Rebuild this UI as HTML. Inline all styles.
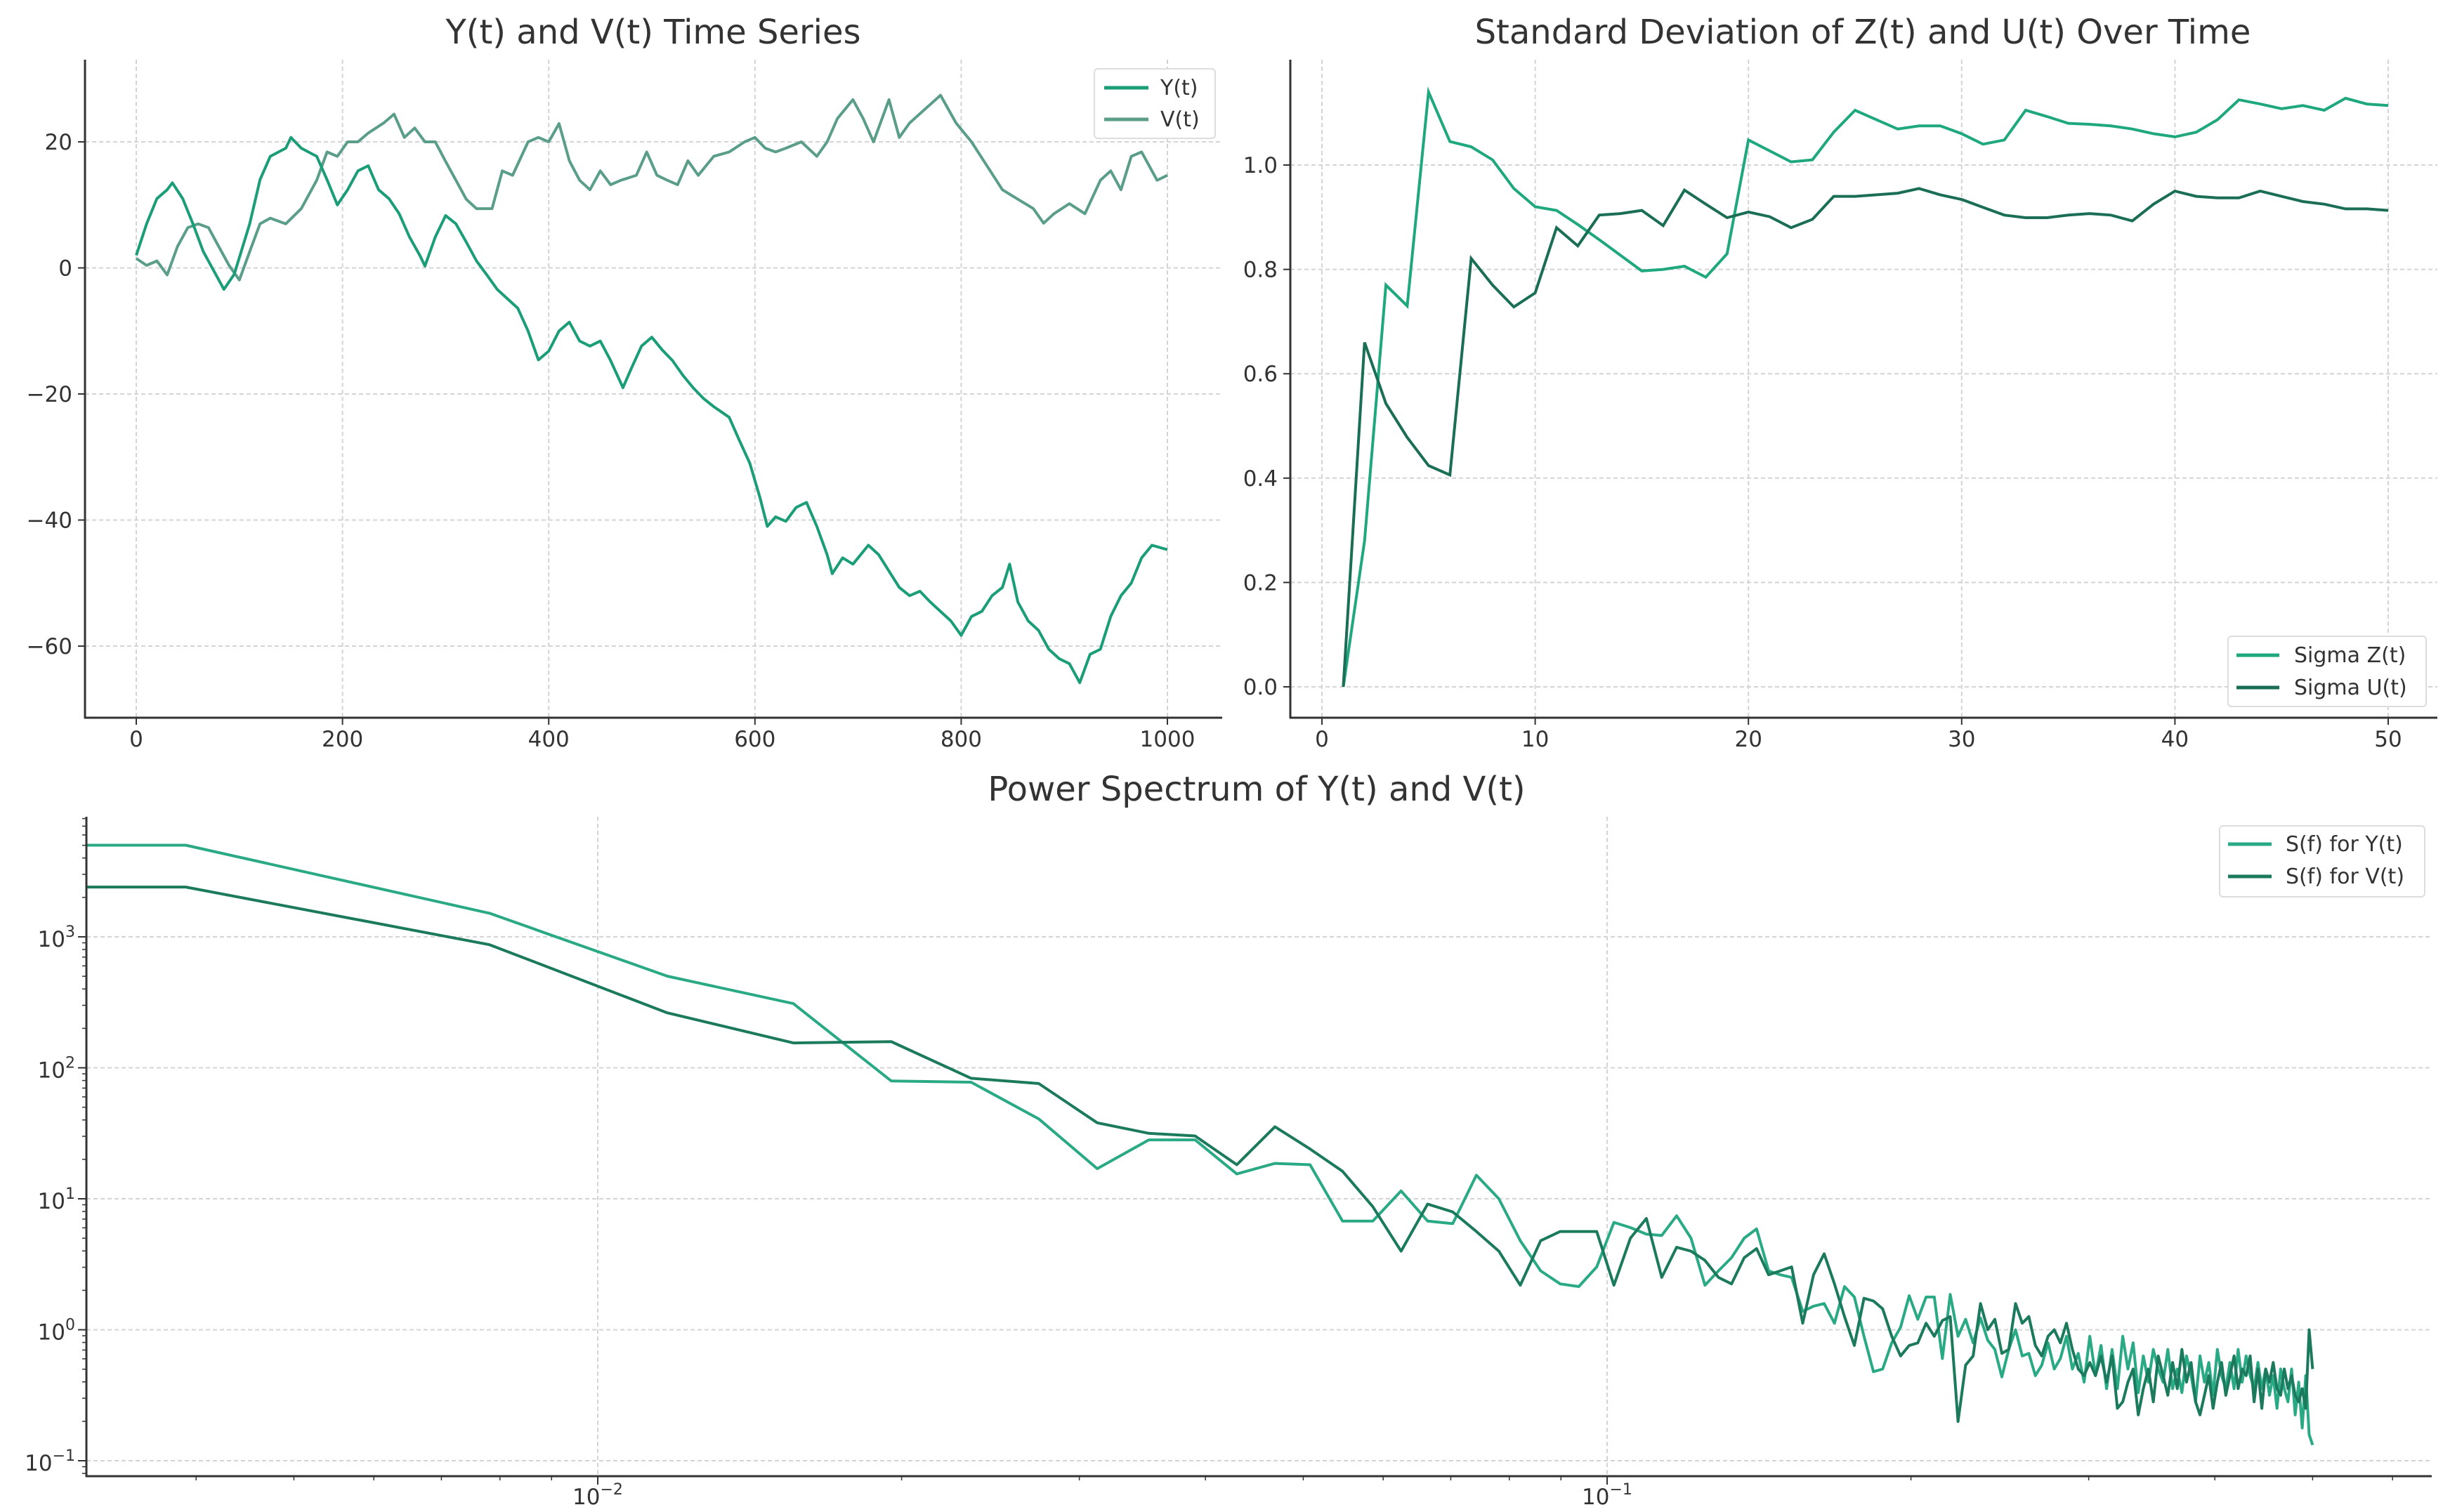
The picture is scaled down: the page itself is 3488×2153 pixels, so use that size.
<!DOCTYPE html>
<html><head><meta charset="utf-8">
<style>
html,body{margin:0;padding:0;background:#fff;}
svg{display:block;font-family:"DejaVu Sans","Liberation Sans",sans-serif;}
.tick{font-size:31px;fill:#333;}
.title{font-size:48px;fill:#333;}
.leg{font-size:30px;fill:#333;}
</style></head>
<body>
<svg id="fig" width="3488" height="2153" viewBox="0 0 3488 2153" xmlns="http://www.w3.org/2000/svg">
<defs>
<clipPath id="c1"><rect x="121" y="85" width="1619" height="937"/></clipPath>
<clipPath id="c2"><rect x="1837" y="85" width="1633" height="937"/></clipPath>
<clipPath id="c3"><rect x="123" y="1163" width="3339" height="939"/></clipPath>
</defs>
<text class="title" x="930" y="62" text-anchor="middle">Y(t) and V(t) Time Series</text>
<text class="title" x="2652" y="62" text-anchor="middle">Standard Deviation of Z(t) and U(t) Over Time</text>
<text class="title" x="1789" y="1140" text-anchor="middle">Power Spectrum of Y(t) and V(t)</text>
<g id="p1"></g>
<g id="p2"></g>
<g id="p3"></g>
</svg>
<script>
// ---- Time series data ----
const tsT = [0,10,20,30,35,45,55,65,75,85,95,110,120,130,145,150,160,175,185,195,205,215,225,235,245,255,265,275,280,290,300,310,320,330,340,350,360,370,380,390,400,410,420,430,440,450,460,472,480,490,500,510,520,530,540,550,560,575,585,595,605,612,620,630,640,650,660,670,675,685,695,710,720,740,750,760,770,780,790,800,810,820,830,840,847,855,865,875,885,895,905,915,925,935,945,955,965,975,985,1000];
const yVals = [2,7,11,12.4,13.5,11,7,2.6,-0.4,-3.4,-1,7,14,17.7,19,20.7,19,17.7,14,10,12.4,15.4,16.2,12.4,11,8.6,4.9,2,0.3,4.9,8.3,7,4.1,1.1,-1.1,-3.4,-4.9,-6.4,-10,-14.6,-13.2,-10,-8.6,-11.6,-12.4,-11.6,-14.7,-19,-16,-12.4,-11,-13,-14.7,-17,-19,-20.7,-22,-23.7,-27.4,-31,-36.5,-41,-39.5,-40.2,-38,-37.2,-41,-45.5,-48.5,-46,-47,-44,-45.5,-50.7,-52,-51.3,-53,-54.5,-56,-58.3,-55.3,-54.5,-52,-50.7,-47,-53,-56,-57.5,-60.5,-62,-62.8,-65.8,-61.3,-60.5,-55.3,-52,-50,-46,-44,-44.7];
const vT = [0,10,20,30,40,50,60,70,80,90,100,110,120,130,145,160,175,185,195,205,215,225,240,250,260,270,280,290,300,310,320,330,345,355,365,380,390,400,410,420,430,440,450,460,470,485,495,505,515,525,535,545,560,575,590,600,610,620,630,645,660,670,680,695,705,715,730,740,750,765,780,795,810,825,840,855,870,880,890,905,920,935,945,955,965,975,990,1000];
const vVals = [1.5,0.4,1.1,-1.1,3.4,6.4,7,6.4,3.4,0.4,-1.9,2.6,7,7.9,7,9.4,13.9,18.4,17.7,20,20,21.4,23,24.4,20.7,22.2,20,20,16.9,13.9,10.9,9.4,9.4,15.4,14.7,20,20.7,20,22.9,17,13.9,12.4,15.4,13.2,13.9,14.7,18.4,14.7,13.9,13.2,17,14.7,17.7,18.4,20,20.7,19,18.4,19,20,17.7,20,23.7,26.7,23.7,20,26.7,20.7,23,25.2,27.4,23,20,16.2,12.4,10.9,9.4,7.1,8.6,10.2,8.6,13.9,15.4,12.4,17.7,18.4,13.9,14.7];
const tsXTicks = [0,200,400,600,800,1000];
const tsYTicks = [-60,-40,-20,0,20];
// ---- Sigma data ----
const sigT = [1,2,3,4,5,6,7,8,9,10,11,12,13,14,15,16,17,18,19,20,21,22,23,24,25,26,27,28,29,30,31,32,33,34,35,36,37,38,39,40,41,42,43,44,45,46,47,48,49,50];
const sigZ = [0,0.28,0.77,0.73,1.14,1.045,1.035,1.01,0.955,0.92,0.913,0.886,0.857,0.827,0.797,0.8,0.806,0.785,0.83,1.048,1.027,1.006,1.01,1.063,1.105,1.087,1.069,1.075,1.075,1.06,1.04,1.048,1.105,1.093,1.08,1.078,1.075,1.069,1.06,1.054,1.063,1.087,1.125,1.117,1.108,1.114,1.105,1.128,1.117,1.114];
const sigU = [0,0.66,0.543,0.478,0.424,0.406,0.821,0.77,0.728,0.755,0.88,0.845,0.904,0.907,0.913,0.884,0.952,0.925,0.899,0.91,0.901,0.88,0.896,0.94,0.94,0.943,0.946,0.955,0.943,0.934,0.919,0.904,0.899,0.899,0.904,0.907,0.904,0.893,0.925,0.95,0.94,0.937,0.937,0.95,0.94,0.93,0.925,0.916,0.916,0.913];
const sigXTicks = [0,10,20,30,40,50];
const sigYTicks = [0,0.2,0.4,0.6,0.8,1.0];
// ---- Power spectrum (frequency bin index k, f = k/256; log10 of S) ----
const psK = [0,1,2,3,4,5,6,7,8,9,10,11,12,13,14,15,16,17,18,19,20,21,22,23,24,25,26,27,28,29,30,31,32,33,34,35,36,37,38,39,40,41,42,43,44,45,46,47,48,49,50,51,52,53,54,55,56,57,58,59,60,61,62,63,64,65,66,67,68,69,70,71,72,73,74,75,76,77,78,79,80,81,82,83,84,85,86,87,88,89,90,91,92,93,94,95,96,97,98,99,100,101,102,103,104,105,106,107,108,109,110,111,112,113,114,115,116,117,118,119,120,121,122,123,124,125,126,127,128];
const psYLog = [3.70,3.70,3.18,2.70,2.49,1.90,1.89,1.61,1.23,1.45,1.45,1.19,1.27,1.26,0.83,0.83,1.06,0.83,0.81,1.18,1.0,0.68,0.45,0.35,0.33,0.48,0.82,0.78,0.73,0.72,0.87,0.70,0.34,0.45,0.55,0.70,0.77,0.45,0.42,0.40,0.14,0.18,0.20,0.05,0.33,0.25,-0.05,-0.32,-0.30,-0.10,0.02,0.26,0.08,0.25,0.25,-0.22,0.27,-0.05,0.08,-0.10,0.09,-0.08,-0.15,-0.36,-0.15,0.00,-0.20,-0.18,-0.35,-0.27,-0.10,-0.30,-0.22,-0.05,-0.30,-0.18,-0.40,-0.05,-0.35,-0.12,-0.45,-0.15,-0.45,-0.05,-0.30,-0.10,-0.48,-0.20,-0.40,-0.15,-0.30,-0.40,-0.15,-0.45,-0.30,-0.48,-0.20,-0.35,-0.55,-0.20,-0.40,-0.25,-0.50,-0.15,-0.35,-0.45,-0.25,-0.45,-0.15,-0.40,-0.20,-0.35,-0.45,-0.25,-0.45,-0.30,-0.50,-0.35,-0.60,-0.30,-0.45,-0.55,-0.30,-0.65,-0.40,-0.75,-0.35,-0.80,-0.88];
const psVLog = [3.38,3.38,2.94,2.42,2.19,2.20,1.92,1.88,1.58,1.50,1.48,1.26,1.55,1.38,1.21,0.94,0.60,0.96,0.90,0.75,0.60,0.34,0.68,0.75,0.75,0.75,0.34,0.70,0.85,0.40,0.63,0.60,0.53,0.40,0.35,0.55,0.62,0.42,0.45,0.48,0.05,0.42,0.58,0.35,0.10,-0.12,0.24,0.22,0.16,-0.05,-0.20,-0.12,-0.10,0.05,-0.05,0.07,0.10,-0.70,-0.27,-0.20,0.20,0.00,0.08,-0.18,-0.15,0.20,0.05,0.10,-0.12,-0.20,-0.05,0.00,-0.10,0.05,-0.15,-0.30,-0.35,-0.25,-0.35,-0.20,-0.40,-0.20,-0.60,-0.55,-0.40,-0.30,-0.65,-0.45,-0.30,-0.55,-0.20,-0.35,-0.50,-0.25,-0.45,-0.15,-0.40,-0.25,-0.55,-0.65,-0.50,-0.35,-0.60,-0.40,-0.25,-0.50,-0.35,-0.20,-0.45,-0.30,-0.35,-0.20,-0.55,-0.30,-0.60,-0.30,-0.40,-0.25,-0.45,-0.50,-0.30,-0.45,-0.35,-0.50,-0.55,-0.45,-0.60,0.00,-0.30];
const psXDecades = [-2,-1];
const psYDecades = [-1,0,1,2,3];

const NS='http://www.w3.org/2000/svg';
function mk(parent, tag, attrs){const e=document.createElementNS(NS,tag);for(const k in attrs)e.setAttribute(k,attrs[k]);parent.appendChild(e);return e;}
const GRID='#d4d4d4', AX='#333';

// ---------- Panel 1 ----------
(function(){
 const g=document.getElementById('p1');
 const L=121,R=1740,T=85,B=1022;
 const sx=t=>194+t*1.468, sy=v=>381.5-v*8.975;
 tsXTicks.forEach(t=>{const x=sx(t);
  const gl=mk(g,'line',{x1:x,x2:x,y1:T,y2:B,stroke:GRID,'stroke-width':2,'stroke-dasharray':'6,4'});
  
  mk(g,'line',{x1:x,x2:x,y1:B,y2:B+10,stroke:AX,'stroke-width':2});
  const tx=mk(g,'text',{x:x,y:1063,'text-anchor':'middle',class:'tick'});tx.textContent=t;
  });
 tsYTicks.forEach(v=>{const y=sy(v);
  const gl=mk(g,'line',{x1:L,x2:R,y1:y,y2:y,stroke:GRID,'stroke-width':2,'stroke-dasharray':'6,4'});
  
  mk(g,'line',{x1:L-10,x2:L,y1:y,y2:y,stroke:AX,'stroke-width':2});
  const tx=mk(g,'text',{x:L-18,y:y+11,'text-anchor':'end',class:'tick'});tx.textContent=String(v).replace('-','\u2212');
  });
 const pv=mk(g,'path',{d:vT.map((t,i)=>(i?'L':'M')+sx(t).toFixed(1)+','+sy(vVals[i]).toFixed(1)).join(''),fill:'none',stroke:'#5a9e89','stroke-width':4,'clip-path':'url(#c1)','stroke-linejoin':'round'});
 
 const py=mk(g,'path',{d:tsT.map((t,i)=>(i?'L':'M')+sx(t).toFixed(1)+','+sy(yVals[i]).toFixed(1)).join(''),fill:'none',stroke:'#1b9e77','stroke-width':4,'clip-path':'url(#c1)','stroke-linejoin':'round'});
 
 mk(g,'line',{x1:L,x2:L,y1:T,y2:B+1,stroke:AX,'stroke-width':3});
 mk(g,'line',{x1:L-1,x2:R,y1:B,y2:B,stroke:AX,'stroke-width':3});
 const lg=mk(g,'g',{});
 mk(lg,'rect',{x:1558,y:98,width:172,height:99,rx:5,fill:'#fff',stroke:'#ddd','stroke-width':2});
 [['Y(t)','#1b9e77',125],['V(t)','#5a9e89',170]].forEach(([n,c,y])=>{
  const e=mk(lg,'g',{});
  mk(e,'line',{x1:1572,x2:1635,y1:y,y2:y,stroke:c,'stroke-width':5});
  const t=mk(e,'text',{x:1652,y:y+10,class:'leg'});t.textContent=n;});
})();

// ---------- Panel 2 ----------
(function(){
 const g=document.getElementById('p2');
 const L=1837,R=3470,T=85,B=1022;
 const sx=t=>1882+t*30.36, sy=v=>978-v*743;
 sigXTicks.forEach(t=>{const x=sx(t);
  const gl=mk(g,'line',{x1:x,x2:x,y1:T,y2:B,stroke:GRID,'stroke-width':2,'stroke-dasharray':'6,4'});
  
  mk(g,'line',{x1:x,x2:x,y1:B,y2:B+10,stroke:AX,'stroke-width':2});
  const tx=mk(g,'text',{x:x,y:1063,'text-anchor':'middle',class:'tick'});tx.textContent=t;
  });
 sigYTicks.forEach(v=>{const y=sy(v);
  const gl=mk(g,'line',{x1:L,x2:R,y1:y,y2:y,stroke:GRID,'stroke-width':2,'stroke-dasharray':'6,4'});
  
  mk(g,'line',{x1:L-10,x2:L,y1:y,y2:y,stroke:AX,'stroke-width':2});
  const tx=mk(g,'text',{x:L-18,y:y+11,'text-anchor':'end',class:'tick'});tx.textContent=v.toFixed(1);
  });
 const pz=mk(g,'path',{d:sigT.map((t,i)=>(i?'L':'M')+sx(t).toFixed(1)+','+sy(sigZ[i]).toFixed(1)).join(''),fill:'none',stroke:'#1fa77e','stroke-width':4,'clip-path':'url(#c2)'});
 
 const pu=mk(g,'path',{d:sigT.map((t,i)=>(i?'L':'M')+sx(t).toFixed(1)+','+sy(sigU[i]).toFixed(1)).join(''),fill:'none',stroke:'#1a6e55','stroke-width':4,'clip-path':'url(#c2)'});
 
 mk(g,'line',{x1:L,x2:L,y1:T,y2:B+1,stroke:AX,'stroke-width':3});
 mk(g,'line',{x1:L-1,x2:R,y1:B,y2:B,stroke:AX,'stroke-width':3});
 const lg=mk(g,'g',{});
 mk(lg,'rect',{x:3172,y:906,width:282,height:100,rx:5,fill:'#fff',stroke:'#ddd','stroke-width':2});
 [['Sigma Z(t)','#1fa77e',933],['Sigma U(t)','#1a6e55',979]].forEach(([n,c,y])=>{
  const e=mk(lg,'g',{});
  mk(e,'line',{x1:3184,x2:3245,y1:y,y2:y,stroke:c,'stroke-width':5});
  const t=mk(e,'text',{x:3266,y:y+10,class:'leg'});t.textContent=n;});
})();

// ---------- Panel 3 ----------
(function(){
 const g=document.getElementById('p3');
 const L=123,R=3462,T=1163,B=2102;
 const sxl=lf=>851+(lf+2)*1437;
 const sx=k=>k>0?sxl(Math.log10(k/256)):L-50;
 const sy=lv=>1334-(lv-3)*186.5;
 psXDecades.forEach(d=>{
  for(let m=1;m<10;m++){const x=sxl(d+Math.log10(m));if(x<L||x>R)continue;
   if(m===1){const gl=mk(g,'line',{x1:x,x2:x,y1:T,y2:B,stroke:GRID,'stroke-width':2,'stroke-dasharray':'6,4'});
    
    mk(g,'line',{x1:x,x2:x,y1:B,y2:B+12,stroke:AX,'stroke-width':2});
    const tx=mk(g,'text',{x:x,y:2142,'text-anchor':'middle',class:'tick'});
    
    tx.innerHTML='10<tspan dy="-14" font-size="22">\u2212'+Math.abs(d)+'</tspan>';}
   else mk(g,'line',{x1:x,x2:x,y1:B,y2:B+6,stroke:AX,'stroke-width':1.5});}
 });
 for(let m=2;m<10;m++){const x=sxl(-3+Math.log10(m));if(x>=L)mk(g,'line',{x1:x,x2:x,y1:B,y2:B+6,stroke:AX,'stroke-width':1.5});}
 for(let m=2;m<10;m++){const x=sxl(Math.log10(m));if(x<=R)mk(g,'line',{x1:x,x2:x,y1:B,y2:B+6,stroke:AX,'stroke-width':1.5});}
 psYDecades.forEach(d=>{const y=sy(d);
  const gl=mk(g,'line',{x1:L,x2:R,y1:y,y2:y,stroke:GRID,'stroke-width':2,'stroke-dasharray':'6,4'});
  
  mk(g,'line',{x1:L-12,x2:L,y1:y,y2:y,stroke:AX,'stroke-width':2});
  const tx=mk(g,'text',{x:L-16,y:y+14,'text-anchor':'end',class:'tick'});
  
  tx.innerHTML='10<tspan dy="-14" font-size="22">'+String(d).replace('-','\u2212')+'</tspan>';
  for(let m=2;m<10;m++){const yy=sy(d+Math.log10(m));if(yy>=T)mk(g,'line',{x1:L-6,x2:L,y1:yy,y2:yy,stroke:AX,'stroke-width':1.5});}
 });
 for(let m=2;m<10;m++){const yy=sy(-2+Math.log10(m));if(yy<=B)mk(g,'line',{x1:L-6,x2:L,y1:yy,y2:yy,stroke:AX,'stroke-width':1.5});}
 const p1=mk(g,'path',{d:psK.map((k,i)=>(i?'L':'M')+sx(k).toFixed(1)+','+sy(psYLog[i]).toFixed(1)).join(''),fill:'none',stroke:'#2aa985','stroke-width':4,'clip-path':'url(#c3)','stroke-linejoin':'round'});
 
 const p2=mk(g,'path',{d:psK.map((k,i)=>(i?'L':'M')+sx(k).toFixed(1)+','+sy(psVLog[i]).toFixed(1)).join(''),fill:'none',stroke:'#1b7a5c','stroke-width':4,'clip-path':'url(#c3)','stroke-linejoin':'round'});
 
 mk(g,'line',{x1:L,x2:L,y1:T,y2:B+1,stroke:AX,'stroke-width':3});
 mk(g,'line',{x1:L-1,x2:R,y1:B,y2:B,stroke:AX,'stroke-width':3});
 const lg=mk(g,'g',{});
 mk(lg,'rect',{x:3160,y:1176,width:292,height:101,rx:5,fill:'#fff',stroke:'#ddd','stroke-width':2});
 [['S(f) for Y(t)','#2aa985',1202],['S(f) for V(t)','#1b7a5c',1248]].forEach(([n,c,y])=>{
  const e=mk(lg,'g',{});
  mk(e,'line',{x1:3172,x2:3234,y1:y,y2:y,stroke:c,'stroke-width':5});
  const t=mk(e,'text',{x:3254,y:y+10,class:'leg'});t.textContent=n;});
})();
</script>
</body></html>
